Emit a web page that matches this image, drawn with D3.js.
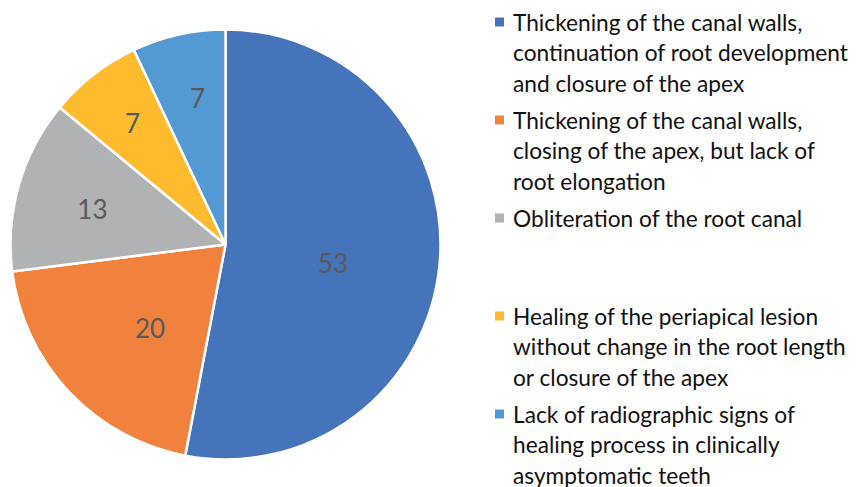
<!DOCTYPE html>
<html>
<head>
<meta charset="utf-8">
<script src="https://cdn.jsdelivr.net/npm/d3@7"></script>
<style>
  html, body { margin: 0; padding: 0; background: #ffffff; }
  svg { display: block; }
</style>
</head>
<body>
<svg id="chart" width="859" height="487"></svg>
<script>
// ---- data ----
const categories = [
  "Thickening of the canal walls,\ncontinuation of root development\nand closure of the apex",
  "Thickening of the canal walls,\nclosing of the apex, but lack of\nroot elongation",
  "Obliteration of the root canal",
  "Healing of the periapical lesion\nwithout change in the root length\nor closure of the apex",
  "Lack of radiographic signs of\nhealing process in clinically\nasymptomatic teeth"
];
const values = [53, 20, 13, 7, 7];
const colors = ["#4674BA", "#F0823E", "#B1B2B4", "#FDBB2D", "#5399D3"];
// label placement (Excel best-fit look): radius fraction and angle shift (deg)
const labelRadiusFactor = [0.507, 0.522, 0.641, 0.712, 0.694];
const labelAngleShift = [4.4, -4.5, -1.1, 0.4, 1.8];

// ---- layout ----
const svg = d3.select("#chart");
const cx = 225.5, cy = 244.5, r = 215;
const fontFamily = "Lato, 'Open Sans', sans-serif";

const pie = d3.pie().sort(null).value(d => d)(values);
const arc = d3.arc().innerRadius(0).outerRadius(r);

const g = svg.append("g").attr("transform", `translate(${cx},${cy})`);

g.selectAll("path.slice")
  .data(pie)
  .enter().append("path")
  .attr("class", "slice")
  .attr("d", arc)
  .attr("fill", (d, i) => colors[i])
  .attr("stroke", "#ffffff")
  .attr("stroke-width", 2.5)
  .attr("stroke-linejoin", "round");

g.selectAll("text.val")
  .data(pie)
  .enter().append("text")
  .attr("class", "val")
  .attr("transform", (d, i) => {
    const a = (d.startAngle + d.endAngle) / 2 + labelAngleShift[i] * Math.PI / 180;
    const rr = r * labelRadiusFactor[i];
    return `translate(${Math.sin(a) * rr},${-Math.cos(a) * rr})`;
  })
  .attr("text-anchor", "middle")
  .attr("dominant-baseline", "central")
  .attr("font-family", fontFamily)
  .attr("font-size", 26)
  .attr("fill", "#595959")
  .text(d => d.data);

// ---- legend ----
const legendX = 495, legendY0 = 22, legendStep = 98, lineH = 30.5;
const leg = svg.append("g");
categories.forEach((c, i) => {
  const y = legendY0 + i * legendStep;
  leg.append("rect")
    .attr("x", legendX).attr("y", y - 4.5)
    .attr("width", 9).attr("height", 9)
    .attr("fill", colors[i]);
  const t = leg.append("text")
    .attr("font-family", fontFamily)
    .attr("font-size", 22.7)
    .attr("fill", "#111111");
  c.split("\n").forEach((line, j) => {
    t.append("tspan")
      .attr("x", legendX + 18)
      .attr("y", y + j * lineH)
      .attr("dominant-baseline", "central")
      .text(line);
  });
});
</script>
</body>
</html>
